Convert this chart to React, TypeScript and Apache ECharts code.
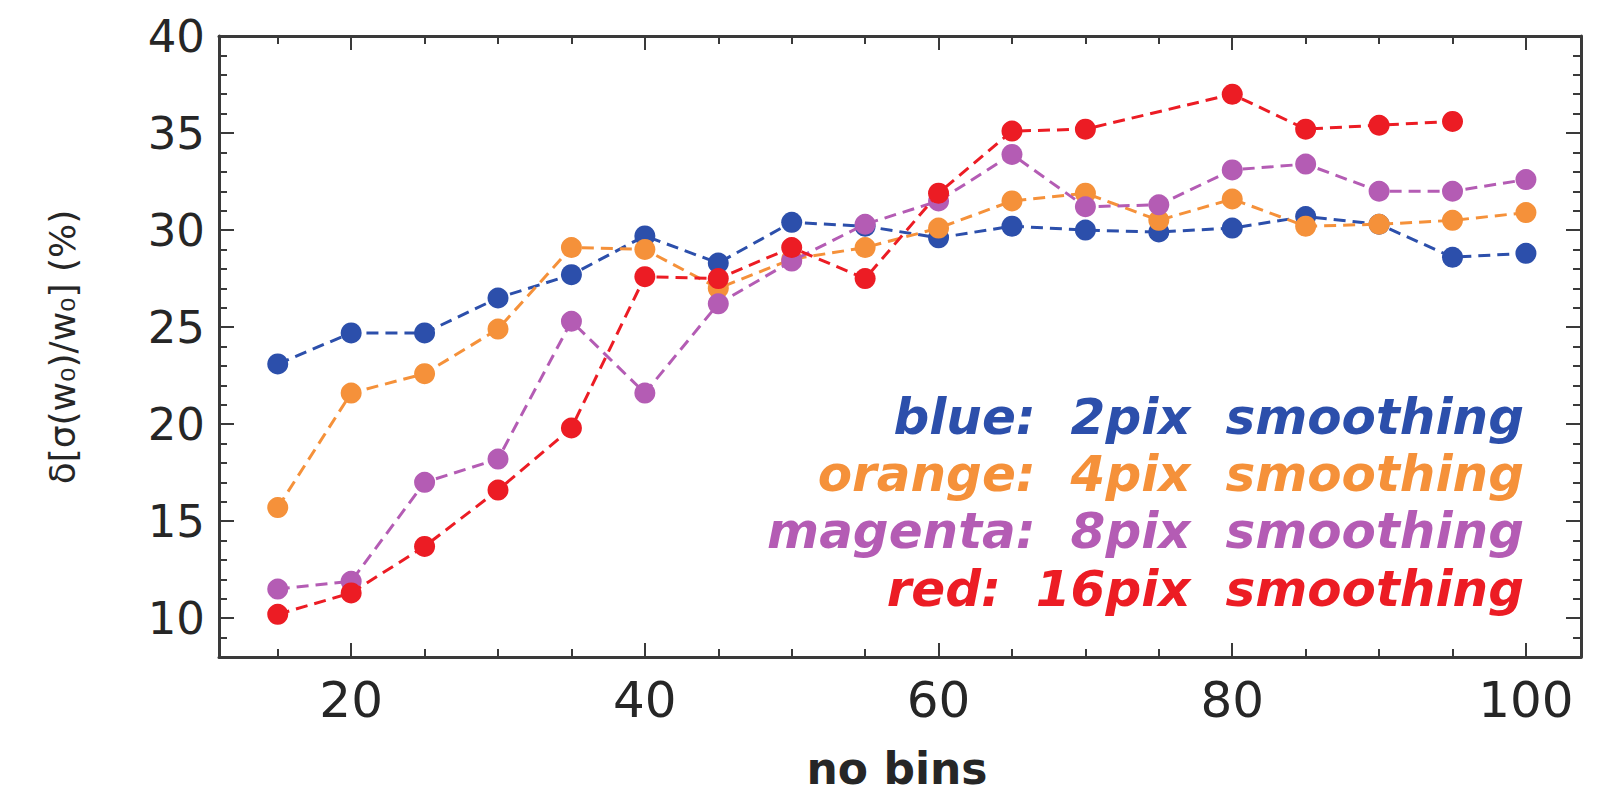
import React, { useEffect, useRef } from "react";
import * as echarts from "echarts";

const xValues = [15, 20, 25, 30, 35, 40, 45, 50, 55, 60, 65, 70, 75, 80, 85, 90, 95, 100];
const blue = [23.1, 24.7, 24.7, 26.5, 27.7, 29.7, 28.3, 30.4, 30.2, 29.6, 30.2, 30.0, 29.9, 30.1, 30.7, 30.3, 28.6, 28.8];
const orange = [15.7, 21.6, 22.6, 24.9, 29.1, 29.0, 27.0, 28.5, 29.1, 30.1, 31.5, 31.9, 30.5, 31.6, 30.2, 30.3, 30.5, 30.9];
const magenta = [11.5, 11.9, 17.0, 18.2, 25.3, 21.6, 26.2, 28.4, 30.3, 31.5, 33.9, 31.2, 31.3, 33.1, 33.4, 32.0, 32.0, 32.6];
const red: (number | null)[] = [10.2, 11.3, 13.7, 16.6, 19.8, 27.6, 27.5, 29.1, 27.5, 31.9, 35.1, 35.2, null, 37.0, 35.2, 35.4, 35.6, null];

const xMajorTicks = [20, 40, 60, 80, 100];
const xMinorTicks = [15, 25, 30, 35, 45, 50, 55, 65, 70, 75, 85, 90, 95];
const yMajorTicks = [10, 15, 20, 25, 30, 35, 40];
const yMinorTicks = [8, 9, 11, 12, 13, 14, 16, 17, 18, 19, 21, 22, 23, 24, 26, 27, 28, 29, 31, 32, 33, 34, 36, 37, 38, 39];

const legendLines = [
  "blue:  2pix  smoothing",
  "orange:  4pix  smoothing",
  "magenta:  8pix  smoothing",
  "red:  16pix  smoothing",
];
const seriesNames = ["blue", "orange", "magenta", "red"];
const colors = ["#2c4fab", "#f5913a", "#b45cb4", "#ec1c24"];

const AXIS_COLOR = "#3a3a3a";
const TEXT_COLOR = "#262626";

function toPairs(vals: (number | null)[]) {
  const out: [number, number][] = [];
  vals.forEach((v, i) => {
    if (v !== null) out.push([xValues[i], v]);
  });
  return out;
}

export default function App() {
  const ref = useRef<HTMLDivElement>(null);
  useEffect(() => {
    if (!ref.current) return;
    const chart = echarts.init(ref.current, null, { renderer: "svg" });
    const xMin = 11;
    const xMax = 103.75;
    const yMin = 8;
    const yMax = 40;

    const mkX = (pos: string, ticks: number[], len: number, labels: boolean, line: boolean) => ({
      type: "value",
      position: pos,
      min: xMin,
      max: xMax,
      axisLine: { show: line, onZero: false, lineStyle: { color: AXIS_COLOR, width: 3 } },
      axisTick: { show: true, inside: true, length: len, customValues: ticks, lineStyle: { color: AXIS_COLOR, width: 2 } },
      axisLabel: labels
        ? { show: true, customValues: xMajorTicks, fontSize: 50, color: TEXT_COLOR, margin: 18, fontFamily: "DejaVu Sans" }
        : { show: false },
      splitLine: { show: false },
    });
    const mkY = (pos: string, ticks: number[], len: number, labels: boolean, line: boolean) => ({
      type: "value",
      position: pos,
      min: yMin,
      max: yMax,
      axisLine: { show: line, onZero: false, lineStyle: { color: AXIS_COLOR, width: 3 } },
      axisTick: { show: true, inside: true, length: len, customValues: ticks, lineStyle: { color: AXIS_COLOR, width: 2 } },
      axisLabel: labels
        ? { show: true, customValues: yMajorTicks, fontSize: 45, color: TEXT_COLOR, margin: 14, fontFamily: "DejaVu Sans" }
        : { show: false },
      splitLine: { show: false },
    });

    const series = [blue, orange, magenta, red].map((vals, i) => ({
      name: seriesNames[i],
      type: "line",
      xAxisIndex: 0,
      yAxisIndex: 0,
      data: toPairs(vals),
      symbol: "circle",
      symbolSize: 21,
      itemStyle: { color: colors[i] },
      lineStyle: { color: colors[i], width: 3, type: [12, 7] },
      z: 2 + i,
    }));

    const graphic: any[] = [
      {
        type: "text",
        x: 62,
        y: 347,
        rotation: Math.PI / 2,
        style: {
          text: "δ[σ(w₀)/w₀] (%)",
          fontSize: 36,
          fontFamily: "DejaVu Sans",
          fill: TEXT_COLOR,
          align: "center",
          verticalAlign: "middle",
        },
      },
      {
        type: "text",
        x: 897,
        y: 768,
        style: {
          text: "no bins",
          fontSize: 44,
          fontWeight: "bold",
          fontFamily: "DejaVu Sans",
          fill: TEXT_COLOR,
          align: "center",
          verticalAlign: "middle",
        },
      },
    ];
    const legendY = [417, 474, 531, 589];
    legendLines.forEach((t, i) => {
      graphic.push({
        type: "text",
        x: 1524,
        y: legendY[i],
        z: 10,
        style: {
          text: t,
          fontSize: 50,
          fontStyle: "italic",
          fontWeight: "bold",
          fontFamily: "DejaVu Sans",
          fill: colors[i],
          align: "right",
          verticalAlign: "middle",
        },
      });
    });

    chart.setOption({
      animation: false,
      backgroundColor: "#ffffff",
      grid: { left: 219, right: 34, top: 36, bottom: 136, containLabel: false },
      xAxis: [
        mkX("bottom", xMajorTicks, 14, true, true),
        mkX("bottom", xMinorTicks, 8, false, false),
        mkX("top", xMajorTicks, 14, false, true),
        mkX("top", xMinorTicks, 8, false, false),
      ],
      yAxis: [
        mkY("left", yMajorTicks, 15, true, true),
        mkY("left", yMinorTicks, 8, false, false),
        mkY("right", yMajorTicks, 15, false, true),
        mkY("right", yMinorTicks, 8, false, false),
      ],
      series,
      graphic,
    });
    return () => chart.dispose();
  }, []);
  return (
    <div
      ref={ref}
      style={{ position: "fixed", left: 0, top: 0, width: 1615, height: 793, background: "#fff" }}
    />
  );
}
